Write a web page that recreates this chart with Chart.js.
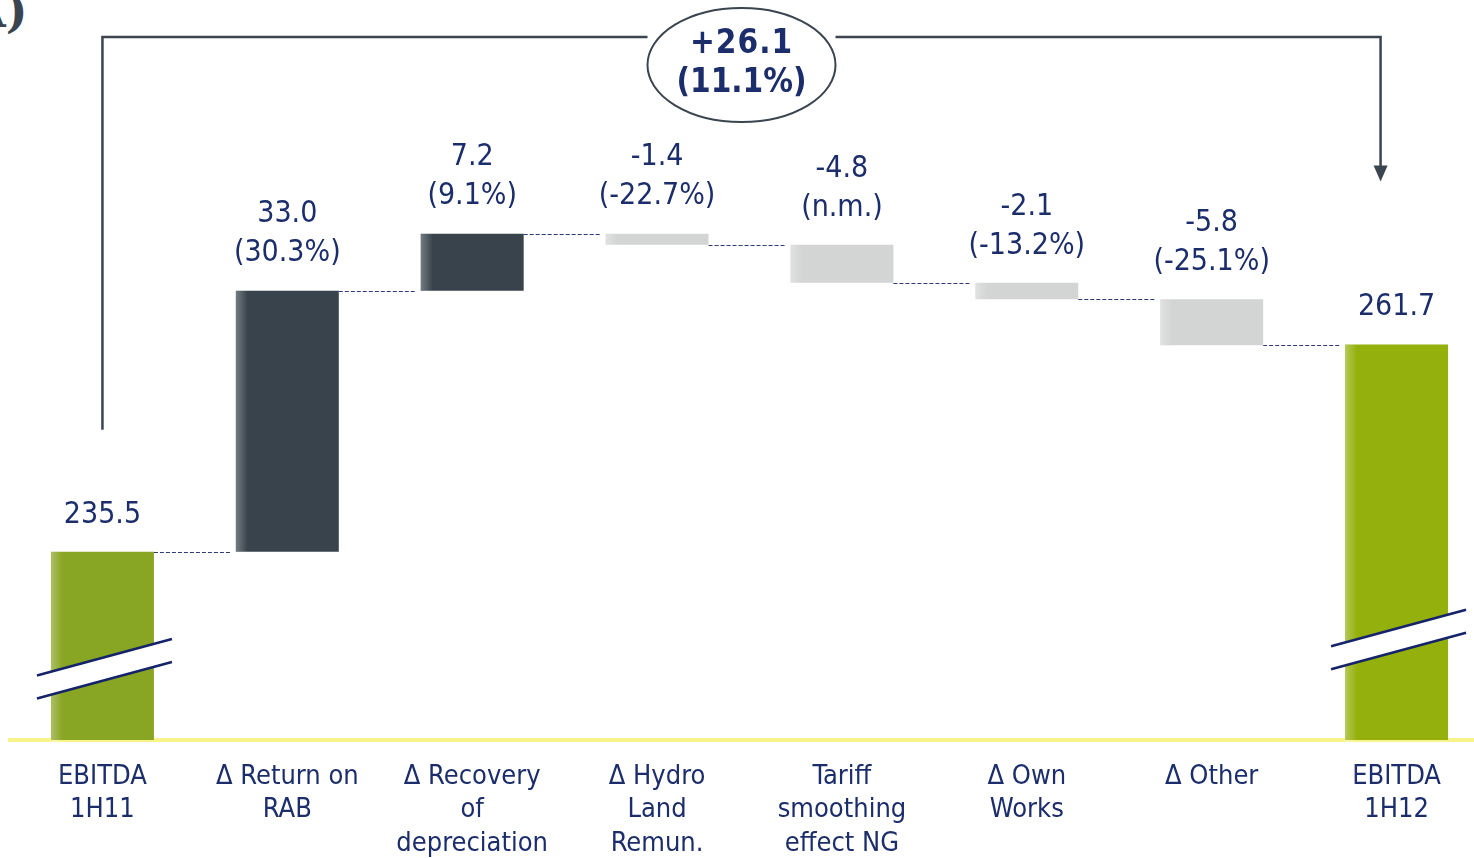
<!DOCTYPE html>
<html>
<head>
<meta charset="utf-8">
<title>EBITDA 1H11 - 1H12</title>
<script src="https://cdn.jsdelivr.net/npm/chart.js@4/dist/chart.umd.min.js"></script>
<style>
    html, body { margin: 0; padding: 0; background: #fff; overflow: hidden; }
    #wrap { position: relative; width: 1474px; height: 858px; overflow: hidden; }
    #chart { position: absolute; left: 0; top: 0; }
    .corner { position: absolute; left: -30px; top: -16px; font: bold 46px "DejaVu Serif", serif; color: #3a4550; }
</style>
</head>
<body>
<div id="wrap">
    <div class="corner">A)</div>
    <canvas id="chart" width="1489" height="858"></canvas>
</div>
<script>
// Datos del puente de EBITDA
const categories = [
    ['EBITDA', '1H11'],
    ['Δ Return on', 'RAB'],
    ['Δ Recovery', 'of', 'depreciation'],
    ['Δ Hydro', 'Land', 'Remun.'],
    ['Tariff', 'smoothing', 'effect NG'],
    ['Δ Own', 'Works'],
    ['Δ Other'],
    ['EBITDA', '1H12']
];
const startValue = 235.5;
const deltas = [33.0, 7.2, -1.4, -4.8, -2.1, -5.8];
const deltaPct = ['(30.3%)', '(9.1%)', '(-22.7%)', '(n.m.)', '(-13.2%)', '(-25.1%)'];
const endValue = 261.7;
const totalChange = '+26.1';
const totalPct = '(11.1%)';

const FONT = '"DejaVu Sans Condensed", "DejaVu Sans", sans-serif';
const NAVY = '#1b2d6b';
const Y_MIN = 211.7;
const Y_MAX = 292.6;

// Barras flotantes: acumulado antes y después de cada variación
const barData = [startValue];
const levels = [startValue];
let running = startValue;
deltas.forEach(d => {
    const next = running + d;
    barData.push([running, next]);
    running = next;
    levels.push(running);
});
barData.push(endValue);

const barColors = barData.map((v, i) => {
    if (i === 0) return '#88a523';
    if (i === barData.length - 1) return '#94b00c';
    return deltas[i - 1] >= 0 ? '#38434c' : '#d3d5d4';
});

// Texto encima de cada barra
function labelLines(i) {
    if (i === 0) return [startValue.toFixed(1)];
    if (i === barData.length - 1) return [endValue.toFixed(1)];
    return [deltas[i - 1].toFixed(1), deltaPct[i - 1]];
}

const bridgePlugin = {
    id: 'bridge',
    afterDatasetsDraw(chart) {
        const ctx = chart.ctx;
        const meta = chart.getDatasetMeta(0);
        const els = meta.data;
        const y = chart.scales.y;

        ctx.save();

        // brillo suave en el borde izquierdo de cada barra
        els.forEach(el => {
            const left = el.x - el.width / 2;
            const top = Math.min(el.y, el.base);
            const bottom = Math.max(el.y, el.base);
            const g = ctx.createLinearGradient(left, 0, left + 12, 0);
            g.addColorStop(0, 'rgba(255,255,255,0.3)');
            g.addColorStop(1, 'rgba(255,255,255,0)');
            ctx.fillStyle = g;
            ctx.fillRect(left, top, 12, bottom - top);
        });

        // conectores punteados entre barras
        ctx.strokeStyle = '#2b3c7c';
        ctx.lineWidth = 1;
        ctx.setLineDash([4, 2]);
        for (let i = 0; i < els.length - 1; i++) {
            const py = Math.round(y.getPixelForValue(levels[i])) + 0.5;
            const x1 = els[i].x + els[i].width / 2;
            const x2 = els[i + 1].x - els[i + 1].width / 2 - 4;
            ctx.beginPath();
            ctx.moveTo(x1, py);
            ctx.lineTo(x2, py);
            ctx.stroke();
        }
        ctx.setLineDash([]);

        // cortes del eje en las barras de total
        const breaks = [{ i: 0, v: 220.7 }, { i: els.length - 1, v: 224.4 }];
        breaks.forEach(b => {
            const el = els[b.i];
            const cy = y.getPixelForValue(b.v);
            const xa = el.x - el.width / 2 - 14;
            const xb = el.x + el.width / 2 + 18;
            const half = (xb - xa) / 2;
            const slope = 0.27;
            const gap = 11.5;
            ctx.fillStyle = '#fff';
            ctx.beginPath();
            ctx.moveTo(xa, cy - gap + half * slope);
            ctx.lineTo(xb, cy - gap - half * slope);
            ctx.lineTo(xb, cy + gap - half * slope);
            ctx.lineTo(xa, cy + gap + half * slope);
            ctx.closePath();
            ctx.fill();
            ctx.strokeStyle = '#14236a';
            ctx.lineWidth = 2.5;
            [-gap, gap].forEach(off => {
                ctx.beginPath();
                ctx.moveTo(xa, cy + off + half * slope);
                ctx.lineTo(xb, cy + off - half * slope);
                ctx.stroke();
            });
        });

        // etiquetas de valor
        ctx.fillStyle = NAVY;
        ctx.font = '30px ' + FONT;
        ctx.textAlign = 'center';
        ctx.textBaseline = 'middle';
        ctx.letterSpacing = '0px';
        els.forEach((el, i) => {
            const top = Math.min(el.y, el.base);
            const lines = labelLines(i);
            lines.forEach((txt, k) => {
                const ly = top - 37 - (lines.length - 1 - k) * 39;
                ctx.fillText(txt, el.x, ly);
            });
        });

        // corchete con la variación total
        const first = els[0];
        const last = els[els.length - 1];
        const xL = first.x;
        const xR = last.x - 16;
        const yTop = 37;
        const yStart = first.y - 122;
        const yTip = last.y - 163;
        const cx = (xL + xR) / 2;
        const cy = 65;
        const rx = 94, ry = 57;

        ctx.strokeStyle = '#3a4550';
        ctx.lineWidth = 2.5;
        ctx.beginPath();
        ctx.moveTo(xL, yStart);
        ctx.lineTo(xL, yTop);
        ctx.lineTo(cx - rx, yTop);
        ctx.moveTo(cx + rx, yTop);
        ctx.lineTo(xR, yTop);
        ctx.lineTo(xR, yTip - 14);
        ctx.stroke();

        ctx.fillStyle = '#3a4550';
        ctx.beginPath();
        ctx.moveTo(xR - 7, yTip - 16);
        ctx.lineTo(xR + 7, yTip - 16);
        ctx.lineTo(xR, yTip);
        ctx.closePath();
        ctx.fill();

        ctx.fillStyle = '#fff';
        ctx.lineWidth = 2;
        ctx.beginPath();
        ctx.ellipse(cx, cy, rx, ry, 0, 0, Math.PI * 2);
        ctx.fill();
        ctx.stroke();

        ctx.fillStyle = NAVY;
        ctx.font = 'bold 33px ' + FONT;
        ctx.letterSpacing = '1px';
        ctx.fillText(totalChange, cx, cy - 21);
        ctx.letterSpacing = '0px';
        ctx.fillText(totalPct, cx, cy + 18);

        ctx.restore();
    }
};

const ctx = document.getElementById('chart').getContext('2d');
new Chart(ctx, {
    type: 'bar',
    data: {
        labels: categories,
        datasets: [{
            data: barData,
            backgroundColor: barColors,
            borderWidth: 0,
            barPercentage: 0.557,
            categoryPercentage: 1
        }]
    },
    options: {
        responsive: false,
        animation: false,
        layout: {
            padding: { left: 10, right: 0, top: 100, bottom: 0 }
        },
        plugins: {
            legend: { display: false },
            tooltip: { enabled: false }
        },
        scales: {
            x: {
                grid: { display: false, drawTicks: false },
                border: { display: true, color: '#f8f48a', width: 4 },
                ticks: {
                    color: NAVY,
                    font: { family: FONT, size: 27, lineHeight: 1.24 },
                    padding: 20,
                    maxRotation: 0,
                    autoSkip: false
                },
                afterFit(scale) {
                    scale.height = 118;
                }
            },
            y: {
                display: false,
                min: Y_MIN,
                max: Y_MAX
            }
        }
    },
    plugins: [bridgePlugin]
});
</script>
</body>
</html>
